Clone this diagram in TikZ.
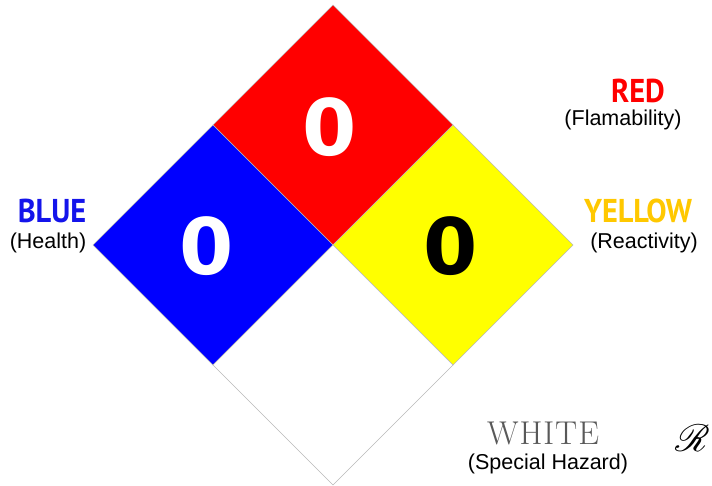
\documentclass[tikz,border=0pt]{standalone}
\usepackage{fontspec}
\usepackage{mathrsfs}
\newfontfamily\helv{Liberation Sans}
\newfontfamily\capsfont{PT Sans}
\newfontfamily\digitfont{DejaVu Sans}
\definecolor{hzred}{RGB}{255,0,0}
\definecolor{hzblue}{RGB}{0,0,255}
\definecolor{hzyellow}{RGB}{255,255,0}
\definecolor{hzgold}{RGB}{255,200,0}
\definecolor{hzink}{RGB}{20,20,235}

\begin{document}
\begin{tikzpicture}[x=1pt, y=-1pt,
    hazard/.style={font=\digitfont\bfseries\fontsize{78}{78}\selectfont, inner sep=0pt},
    colourname/.style={font=\capsfont\bfseries\fontsize{33}{33}\selectfont, inner sep=0pt, xscale=0.92},
    meaning/.style={font=\helv\fontsize{21.5}{21.5}\selectfont, inner sep=0pt, text=black}]
    \useasboundingbox (0,0) rectangle (712,485);
    \fill[white] (0,0) rectangle (712,485);

    % --- the four quarters: (centre x, centre y, colour) ---
    \foreach \cx/\cy/\col in {333/125/hzred, 213/245/hzblue,
      453/245/hzyellow, 333/365/white}{
      \filldraw[fill=\col, draw=gray!55, line width=0.5pt]
        (\cx,\cy-120) -- (\cx+120,\cy) -- (\cx,\cy+120) -- (\cx-120,\cy) -- cycle;
    }

    % --- ratings ---
    \node[hazard, text=white] (fire)   at (330,127) {0};
    \node[hazard, text=white] (health) at (207,246) {0};
    \node[hazard, text=black] (react)  at (451,246) {0};

    % --- legend ---
    \node[colourname, text=hzred]  (redname)    at (638,91)  {RED};
    \node[meaning]                 (redtext)    at (623,120) {(Flamability)};
    \node[colourname, text=hzink]  (bluename)   at (52,211)  {BLUE};
    \node[meaning]                 (bluetext)   at (48,243)  {(Health)};
    \node[colourname, text=hzgold] (yellowname) at (638,211) {YELLOW};
    \node[meaning]                 (yellowtext) at (644,243) {(Reactivity)};
    \node[font=\fontsize{33}{33}\selectfont, text=gray!70!black, inner sep=0pt]
      (whitename) at (543,433) {W\kern1pt H\kern1pt I\kern1pt T\kern1pt E};
    \node[meaning]                 (whitetext)  at (548,464) {(Special Hazard)};

    % signature mark at the right edge
    \node[inner sep=0pt, anchor=east]
      (mark) at (710,438) {\scalebox{3.8}{$\mathscr{R}$}};
  \end{tikzpicture}
\end{document}
